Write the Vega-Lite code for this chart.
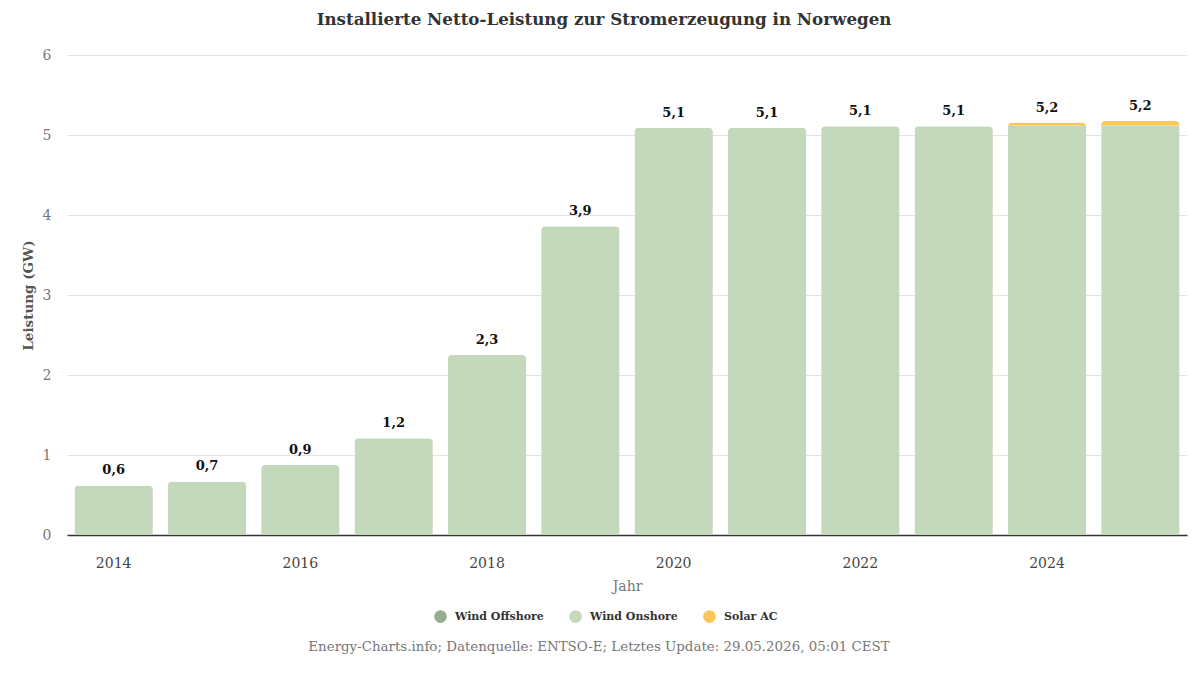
{
  "$schema": "https://vega.github.io/schema/vega-lite/v6.json",
  "background": "#ffffff",
  "padding": {"left": 21, "right": 12, "top": 12, "bottom": 10},
  "title": {
    "text": "Installierte Netto-Leistung zur Stromerzeugung in Norwegen",
    "font": "DejaVu Serif",
    "fontSize": 16.7,
    "fontWeight": "bold",
    "color": "#333333",
    "anchor": "middle",
    "offset": 19
  },
  "config": {
    "locale": {"number": {"decimal": ",", "thousands": ".", "grouping": [3], "currency": ["", " €"]}},
    "view": {"stroke": null},
    "font": "DejaVu Serif"
  },
  "data": {
    "values": [
      {"year": "2014", "source": "Wind Offshore", "value": 0},
      {"year": "2014", "source": "Wind Onshore", "value": 0.62},
      {"year": "2014", "source": "Solar AC", "value": 0},
      {"year": "2015", "source": "Wind Offshore", "value": 0},
      {"year": "2015", "source": "Wind Onshore", "value": 0.67},
      {"year": "2015", "source": "Solar AC", "value": 0},
      {"year": "2016", "source": "Wind Offshore", "value": 0},
      {"year": "2016", "source": "Wind Onshore", "value": 0.875},
      {"year": "2016", "source": "Solar AC", "value": 0},
      {"year": "2017", "source": "Wind Offshore", "value": 0},
      {"year": "2017", "source": "Wind Onshore", "value": 1.21},
      {"year": "2017", "source": "Solar AC", "value": 0},
      {"year": "2018", "source": "Wind Offshore", "value": 0},
      {"year": "2018", "source": "Wind Onshore", "value": 2.25},
      {"year": "2018", "source": "Solar AC", "value": 0},
      {"year": "2019", "source": "Wind Offshore", "value": 0},
      {"year": "2019", "source": "Wind Onshore", "value": 3.86},
      {"year": "2019", "source": "Solar AC", "value": 0},
      {"year": "2020", "source": "Wind Offshore", "value": 0},
      {"year": "2020", "source": "Wind Onshore", "value": 5.09},
      {"year": "2020", "source": "Solar AC", "value": 0},
      {"year": "2021", "source": "Wind Offshore", "value": 0},
      {"year": "2021", "source": "Wind Onshore", "value": 5.09},
      {"year": "2021", "source": "Solar AC", "value": 0},
      {"year": "2022", "source": "Wind Offshore", "value": 0},
      {"year": "2022", "source": "Wind Onshore", "value": 5.11},
      {"year": "2022", "source": "Solar AC", "value": 0},
      {"year": "2023", "source": "Wind Offshore", "value": 0},
      {"year": "2023", "source": "Wind Onshore", "value": 5.11},
      {"year": "2023", "source": "Solar AC", "value": 0},
      {"year": "2024", "source": "Wind Offshore", "value": 0},
      {"year": "2024", "source": "Wind Onshore", "value": 5.12},
      {"year": "2024", "source": "Solar AC", "value": 0.035},
      {"year": "2025", "source": "Wind Offshore", "value": 0},
      {"year": "2025", "source": "Wind Onshore", "value": 5.12},
      {"year": "2025", "source": "Solar AC", "value": 0.055}
    ]
  },
  "vconcat": [
    {
      "width": 1120,
      "height": 480,
      "title": {
        "text": "Energy-Charts.info; Datenquelle: ENTSO-E; Letztes Update: 29.05.2026, 05:01 CEST",
        "orient": "bottom",
        "anchor": "middle",
        "font": "DejaVu Serif",
        "fontSize": 13.4,
        "fontWeight": "normal",
        "color": "#777777",
        "dx": -28,
        "offset": 17
      },
      "encoding": {
        "x": {
          "field": "year",
          "type": "nominal",
          "scale": {"paddingInner": 0.16, "paddingOuter": 0.08},
          "axis": {
            "title": "Jahr",
            "titleFont": "DejaVu Serif",
            "titleFontSize": 14,
            "titleFontWeight": "normal",
            "titleColor": "#777777",
            "titlePadding": 9,
            "labelAngle": 0,
            "labelFont": "DejaVu Serif",
            "labelFontSize": 14,
            "labelColor": "#444444",
            "labelPadding": 21,
            "labelExpr": "toNumber(datum.value) % 2 == 0 ? datum.value : ''",
            "ticks": false,
            "domainColor": "#333333",
            "domainWidth": 1.5,
            "grid": false
          }
        }
      },
      "layer": [
        {
          "mark": {"type": "bar", "cornerRadiusTopLeft": 4, "cornerRadiusTopRight": 4},
          "encoding": {
            "y": {
              "field": "value",
              "type": "quantitative",
              "aggregate": "sum",
              "stack": "zero",
              "scale": {"domain": [0, 6]},
              "axis": {
                "title": "Leistung (GW)",
                "titleFont": "DejaVu Serif",
                "titleFontSize": 13.5,
                "titleFontWeight": "bold",
                "titleColor": "#555555",
                "titlePadding": 7,
                "labelFont": "DejaVu Serif",
                "labelFontSize": 14,
                "labelColor": "#777777",
                "labelPadding": 16,
                "tickCount": 6,
                "ticks": false,
                "domain": false,
                "gridColor": "#e3e3e3",
                "format": "d"
              }
            },
            "color": {
              "field": "source",
              "type": "nominal",
              "scale": {
                "domain": ["Wind Offshore", "Wind Onshore", "Solar AC"],
                "range": ["#95ae8d", "#c4d8bb", "#fcc659"]
              },
              "legend": {
                "orient": "none",
                "legendX": 367,
                "legendY": 555,
                "direction": "horizontal",
                "title": null,
                "symbolType": "circle",
                "symbolSize": 160,
                "symbolStrokeWidth": 0,
                "labelFont": "DejaVu Serif",
                "labelFontSize": 11,
                "labelFontWeight": "bold",
                "labelColor": "#333333",
                "labelOffset": 8,
                "columnPadding": 25
              }
            },
            "order": {"field": "source", "sort": "descending"}
          }
        },
        {
          "transform": [
            {"aggregate": [{"op": "sum", "field": "value", "as": "total"}], "groupby": ["year"]}
          ],
          "mark": {"type": "text", "dy": -15, "font": "DejaVu Serif", "fontSize": 13, "fontWeight": "bold", "color": "#111111"},
          "encoding": {
            "y": {"field": "total", "type": "quantitative"},
            "text": {"field": "total", "type": "quantitative", "format": ".1f"}
          }
        }
      ]
    }
  ],
  "resolve": {"legend": {"color": "independent"}}
}
